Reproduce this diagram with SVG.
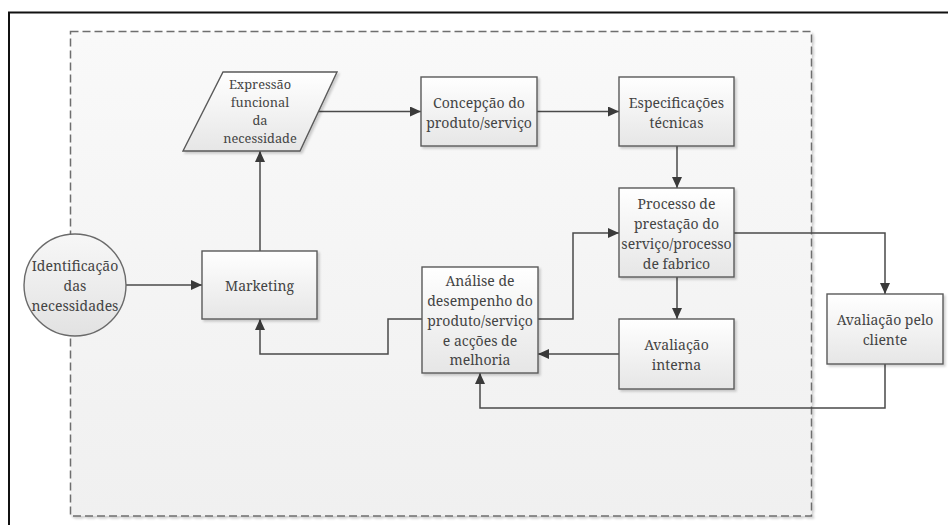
<svg xmlns="http://www.w3.org/2000/svg" width="948" height="525" viewBox="0 0 948 525">
  <style>
    .box { fill: url(#boxFill); stroke: #5a5a5a; stroke-width: 1.4; filter: url(#shadow); }
    .lbl { font-family: "Noto Serif", "DejaVu Serif", serif; font-size: 14px; fill: #444444; text-anchor: middle; dominant-baseline: central; }
    .sm { font-size: 12.8px; }
    .conn { fill: none; stroke: #4a4a4a; stroke-width: 1.5; marker-end: url(#arrow); }
  </style>
  <defs>
    <linearGradient id="boxFill" x1="0" y1="0" x2="0" y2="1">
      <stop offset="0" stop-color="#ffffff"/>
      <stop offset="1" stop-color="#e6e6e6"/>
    </linearGradient>
    <linearGradient id="circleFill" x1="0" y1="0" x2="0" y2="1">
      <stop offset="0" stop-color="#f7f7f7"/>
      <stop offset="1" stop-color="#e2e2e2"/>
    </linearGradient>
    <linearGradient id="areaFill" x1="0" y1="0" x2="0" y2="1">
      <stop offset="0" stop-color="#f9f9f9"/>
      <stop offset="1" stop-color="#f0f0f0"/>
    </linearGradient>
    <filter id="shadow" x="-10%" y="-10%" width="130%" height="130%">
      <feDropShadow dx="2" dy="2" stdDeviation="1" flood-color="#000000" flood-opacity="0.18"/>
    </filter>
    <marker id="arrow" markerUnits="userSpaceOnUse" markerWidth="12" markerHeight="10" viewBox="0 0 12 10" refX="11" refY="5" orient="auto">
      <path d="M0,0 L11,5 L0,10 Z" fill="#3a3a3a"/>
    </marker>
  </defs>

  <!-- page background and outer frame -->
  <rect x="0" y="0" width="948" height="525" fill="#ffffff"/>
  <rect x="9" y="12.5" width="960" height="540" fill="none" stroke="#111111" stroke-width="2"/>

  <!-- organisation boundary -->
  <rect x="70.5" y="31.5" width="741" height="484.5" fill="url(#areaFill)" stroke="#6e6e6e" stroke-width="1.5" stroke-dasharray="8 4" filter="url(#shadow)"/>

  <!-- connectors -->
  <g id="connectors">
    <path class="conn" d="M126,285 H202"/>
    <path class="conn" d="M260,251 V151"/>
    <path class="conn" d="M319,111.5 H421"/>
    <path class="conn" d="M537,111.5 H619"/>
    <path class="conn" d="M677,146 V188"/>
    <path class="conn" d="M677,277 V319"/>
    <path class="conn" d="M538,319 H573 V233 H619"/>
    <path class="conn" d="M734,233 H885 V294"/>
    <path class="conn" d="M619,354 H538"/>
    <path class="conn" d="M885,364 V408 H480 V373"/>
    <path class="conn" d="M422,319 H388 V354 H260 V319"/>
  </g>

  <!-- nodes -->
  <g id="identificacao">
    <circle cx="75" cy="285" r="51" fill="url(#circleFill)" stroke="#6a6a6a" stroke-width="1.4"/>
    <text class="lbl" x="75" y="265">Identificação</text>
    <text class="lbl" x="75" y="285">das</text>
    <text class="lbl" x="75" y="305">necessidades</text>
  </g>

  <g id="marketing">
    <rect class="box" x="202" y="251" width="115" height="68"/>
    <text class="lbl" x="259.5" y="285">Marketing</text>
  </g>

  <g id="expressao">
    <polygon class="box" points="223,72 337,72 300,151 183,151"/>
    <text class="lbl sm" x="260" y="84">Expressão</text>
    <text class="lbl sm" x="260" y="102">funcional</text>
    <text class="lbl sm" x="260" y="120">da</text>
    <text class="lbl sm" x="260" y="138">necessidade</text>
  </g>

  <g id="concepcao">
    <rect class="box" x="421" y="77" width="116" height="69"/>
    <text class="lbl" x="479" y="102">Concepção do</text>
    <text class="lbl" x="479" y="122">produto/serviço</text>
  </g>

  <g id="especificacoes">
    <rect class="box" x="619" y="77" width="115" height="69"/>
    <text class="lbl" x="676.5" y="102">Especificações</text>
    <text class="lbl" x="676.5" y="122">técnicas</text>
  </g>

  <g id="processo">
    <rect class="box" x="619" y="188" width="115" height="89"/>
    <text class="lbl" x="676.5" y="203">Processo de</text>
    <text class="lbl" x="676.5" y="223">prestação do</text>
    <text class="lbl" x="676.5" y="243">serviço/processo</text>
    <text class="lbl" x="676.5" y="263">de fabrico</text>
  </g>

  <g id="analise">
    <rect class="box" x="422" y="267" width="116" height="106"/>
    <text class="lbl" x="480" y="280">Análise de</text>
    <text class="lbl" x="480" y="300">desempenho do</text>
    <text class="lbl" x="480" y="320">produto/serviço</text>
    <text class="lbl" x="480" y="340">e acções de</text>
    <text class="lbl" x="480" y="359">melhoria</text>
  </g>

  <g id="avaliacao-interna">
    <rect class="box" x="619" y="319" width="115" height="70"/>
    <text class="lbl" x="676.5" y="344">Avaliação</text>
    <text class="lbl" x="676.5" y="364">interna</text>
  </g>

  <g id="avaliacao-cliente">
    <rect class="box" x="827" y="294" width="116" height="70"/>
    <text class="lbl" x="885" y="319">Avaliação pelo</text>
    <text class="lbl" x="885" y="339">cliente</text>
  </g>
</svg>
